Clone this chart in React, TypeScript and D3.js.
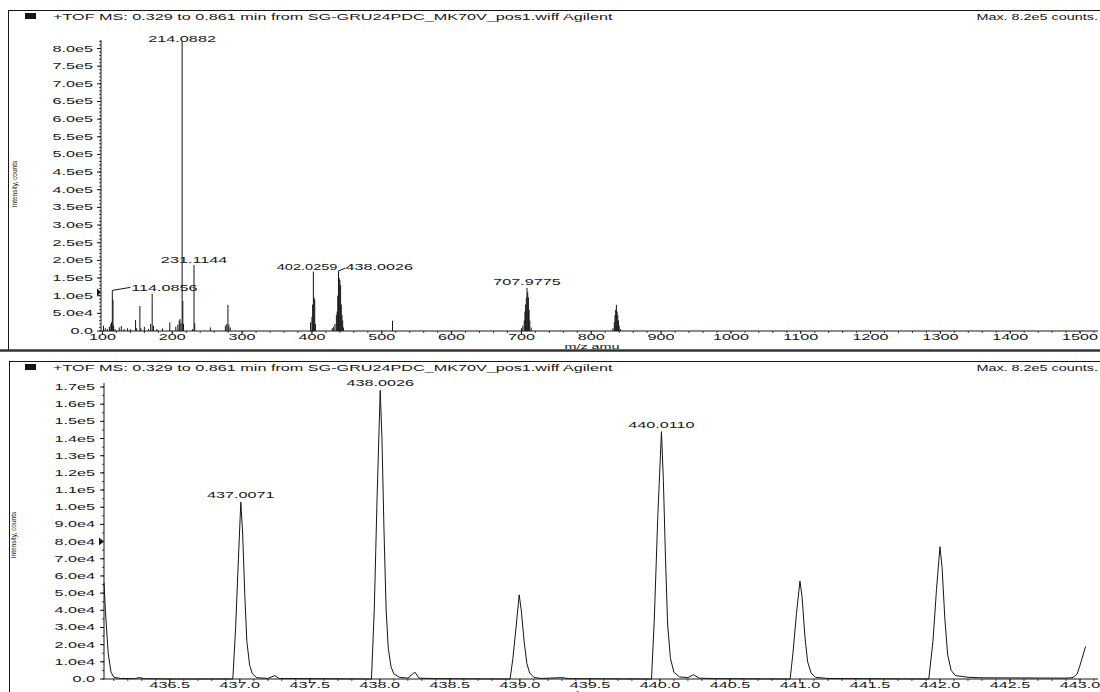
import React from "react";
import * as d3 from "d3";

// ---------- DATA ----------
const headerText = "+TOF MS: 0.329 to 0.861 min from SG-GRU24PDC_MK70V_pos1.wiff Agilent";
const maxText = "Max. 8.2e5 counts.";
const yAxisTitle = "Intensity, counts";
const xAxisTitle = "m/z amu";

// Top panel: centroid sticks (m/z, intensity)
const topMz = [101.5, 104, 107, 110, 112, 113, 114.0856, 115.09, 116, 118, 124, 127, 131, 136, 140,
  147.4, 149, 153.6, 155, 160, 166, 169, 171.2, 173, 178, 186, 196.4, 205, 208, 210, 211, 212.5,
  214.0882, 215.09, 216.09, 229, 231.1144, 232.1, 254.5, 276, 278, 279.7, 281, 283,
  398, 400, 401, 402.0259, 403, 404, 405, 429, 431, 433, 435, 436, 437.0071, 438.0026, 439, 440.011,
  441, 442, 443, 444, 445, 515.4, 700, 702, 704, 705, 706, 707, 707.9775, 709, 710, 711, 712, 714,
  831, 833, 834, 835, 836, 837, 838, 839, 840, 842];
const topInt = [15000, 8000, 6000, 12000, 20000, 25000, 115000, 88000, 15000, 5000, 10000, 14000, 6000, 8000, 5000,
  31000, 8000, 71000, 8000, 12000, 6000, 20000, 105000, 15000, 6000, 7000, 24000, 12000, 18000, 30000, 34000, 22000,
  820000, 85000, 20000, 5000, 187000, 22000, 10000, 15000, 20000, 74000, 18000, 10000,
  25000, 40000, 75000, 168000, 95000, 90000, 20000, 8000, 12000, 20000, 45000, 55000, 100000, 170000, 150000, 145000,
  130000, 75000, 45000, 30000, 10000, 29000, 8000, 15000, 30000, 55000, 75000, 95000, 122000, 110000, 95000, 60000, 30000, 10000,
  8000, 25000, 45000, 60000, 74000, 55000, 45000, 30000, 15000, 5000];

const topYTicks = [0, 50000, 100000, 150000, 200000, 250000, 300000, 350000, 400000, 450000, 500000, 550000, 600000, 650000, 700000, 750000, 800000];
const topYLabels = ["0.0", "5.0e4", "1.0e5", "1.5e5", "2.0e5", "2.5e5", "3.0e5", "3.5e5", "4.0e5", "4.5e5", "5.0e5", "5.5e5", "6.0e5", "6.5e5", "7.0e5", "7.5e5", "8.0e5"];
const topXTicks = [100, 200, 300, 400, 500, 600, 700, 800, 900, 1000, 1100, 1200, 1300, 1400, 1500];

// Top annotations
const topLabelText = ["214.0882", "231.1144", "114.0856", "402.0259", "438.0026", "707.9775"];
const topLabelMz = [214.0882, 231.1144, 114.0856, 402.0259, 438.0026, 707.9775];
const topLabelInt = [820000, 187000, 115000, 168000, 170000, 122000];

// Bottom panel: profile (m/z, intensity)
const botMz = [436.03, 436.04, 436.06, 436.08, 436.10, 436.15, 436.25, 436.28, 436.32, 436.5, 436.9,
  436.95, 436.97, 436.99, 437.007, 437.02, 437.035, 437.05, 437.07, 437.09, 437.12, 437.2, 437.25, 437.28, 437.9,
  437.94, 437.96, 437.98, 438.0026, 438.015, 438.03, 438.045, 438.06, 438.08, 438.1, 438.14, 438.2, 438.25, 438.28, 438.4, 438.9,
  438.93, 438.95, 438.975, 438.995, 439.01, 439.03, 439.05, 439.07, 439.1, 439.15, 439.3, 439.35, 439.9,
  439.94, 439.96, 439.985, 440.011, 440.025, 440.04, 440.055, 440.075, 440.1, 440.14, 440.2, 440.24, 440.28, 440.4, 440.9,
  440.93, 440.95, 440.975, 441.0, 441.015, 441.035, 441.055, 441.08, 441.11, 441.2, 441.9,
  441.92, 441.95, 441.975, 442.0, 442.015, 442.035, 442.055, 442.08, 442.11, 442.2, 442.3, 442.9,
  442.95, 442.98, 443.0, 443.04];
const botInt = [56000, 40000, 15000, 4000, 1000, 300, 200, 800, 200, 0, 0,
  0, 30000, 70000, 103000, 85000, 50000, 22000, 8000, 3000, 800, 300, 2000, 300, 0,
  0, 40000, 105000, 168000, 140000, 85000, 40000, 18000, 7000, 3000, 1000, 500, 4000, 500, 200, 0,
  0, 12000, 32000, 49000, 40000, 22000, 9000, 3500, 1000, 300, 800, 200, 0,
  0, 35000, 95000, 144000, 115000, 70000, 32000, 12000, 4000, 1200, 800, 2500, 500, 200, 0,
  0, 15000, 38000, 57000, 48000, 25000, 10000, 3500, 1000, 300, 0,
  0, 22000, 52000, 77000, 65000, 35000, 14000, 5000, 2000, 1000, 700, 500,
  800, 3000, 8000, 19000];

const botYTicks = [0, 10000, 20000, 30000, 40000, 50000, 60000, 70000, 80000, 90000, 100000, 110000, 120000, 130000, 140000, 150000, 160000, 170000];
const botYLabels = ["0.0", "1.0e4", "2.0e4", "3.0e4", "4.0e4", "5.0e4", "6.0e4", "7.0e4", "8.0e4", "9.0e4", "1.0e5", "1.1e5", "1.2e5", "1.3e5", "1.4e5", "1.5e5", "1.6e5", "1.7e5"];
const botXTicks = [436.5, 437.0, 437.5, 438.0, 438.5, 439.0, 439.5, 440.0, 440.5, 441.0, 441.5, 442.0, 442.5, 443.0];

const botLabelText = ["437.0071", "438.0026", "440.0110"];
const botLabelMz = [437.0071, 438.0026, 440.011];
const botLabelInt = [103000, 168000, 144000];

// ---------- STYLE ----------
const FONT = "'Liberation Sans', Arial, sans-serif";
const INK = "#161616";
const SX = 1.8;

function SText({ x, y, children, anchor = "start", size = 9, sx = SX }: any) {
  return (
    <text transform={`translate(${x},${y}) scale(${sx},1)`} textAnchor={anchor} fontSize={size}
      fontFamily={FONT} fill={INK}>{children}</text>
  );
}

export default function App() {
  // Top scales
  const tx = d3.scaleLinear().domain([97.9, 1525.7]).range([101, 1098]);
  const ty = d3.scaleLinear().domain([0, 800000]).range([331, 48.5]);
  // Bottom scales
  const bx = d3.scaleLinear().domain([436.03, 443.0]).range([104, 1080]);
  const by = d3.scaleLinear().domain([0, 170000]).range([679, 387]);

  const topMinorY = d3.range(0, 820001, 10000);
  const topMinorX = d3.range(100, 1521, 20);
  const botMinorY = d3.range(0, 172001, 5000);
  const botMinorX = d3.range(436.1, 443.11, 0.1);

  const botPts: [number, number][] = botMz.map((m, i) => [m, botInt[i]]);
  const profile = d3.line<[number, number]>().x(d => bx(d[0])).y(d => by(d[1]))(botPts) || "";

  const x402 = tx(topLabelMz[3]);
  const x438 = tx(topLabelMz[4]);
  const y438 = ty(topLabelInt[4]);

  return (
    <svg width={1100} height={692} style={{ position: "fixed", left: 0, top: 0, background: "#fff" }}>
      <rect x={0} y={0} width={1100} height={692} fill="#fff" />
      {/* ---------- TOP PANEL FRAME ---------- */}
      <line x1={8} y1={10.5} x2={1100} y2={10.5} stroke={INK} strokeWidth={1} />
      <line x1={8.5} y1={10} x2={8.5} y2={350} stroke={INK} strokeWidth={1} />
      <line x1={0} y1={350.5} x2={1100} y2={350.5} stroke="#333" strokeWidth={2.5} />
      <rect x={25} y={13} width={11} height={6} fill={INK} />
      <SText x={53} y={19.5}>{headerText}</SText>
      <SText x={1098} y={19.5} anchor="end" sx={1.6}>{maxText}</SText>

      {/* top y axis */}
      <line x1={101} y1={40} x2={101} y2={331} stroke={INK} />
      {topMinorY.map(v => <line key={"tmy" + v} x1={99} x2={101} y1={ty(v)} y2={ty(v)} stroke={INK} strokeWidth={0.8} />)}
      {topYTicks.map((v, i) => (
        <g key={"tyt" + v}>
          <line x1={97} x2={101} y1={ty(v)} y2={ty(v)} stroke={INK} />
          <SText x={93} y={ty(v) + 3} anchor="end">{topYLabels[i]}</SText>
        </g>
      ))}
      <path d={`M97,${ty(110000) - 4} L101,${ty(110000)} L97,${ty(110000) + 4} Z`} fill={INK} />
      <text transform={`translate(17,184) rotate(-90)`} textAnchor="middle" fontSize={6.5} fontFamily={FONT} fill={INK}>{yAxisTitle}</text>

      {/* top x axis */}
      <line x1={101} y1={331} x2={1098} y2={331} stroke={INK} />
      {topMinorX.map(v => <line key={"tmx" + v} x1={tx(v)} x2={tx(v)} y1={331} y2={333} stroke={INK} strokeWidth={0.8} />)}
      {topXTicks.map(v => (
        <g key={"txt" + v}>
          <line x1={tx(v)} x2={tx(v)} y1={331} y2={334} stroke={INK} />
          <SText x={tx(v)} y={340} anchor="middle">{String(v)}</SText>
        </g>
      ))}
      <SText x={592} y={348.5} anchor="middle" size={8}>{xAxisTitle}</SText>

      {/* sticks */}
      {topMz.map((m, i) => (
        <line key={"st" + i} x1={tx(m)} x2={tx(m)} y1={ty(0)} y2={ty(topInt[i])} stroke={INK} strokeWidth={1} />
      ))}

      {/* top labels */}
      <SText x={tx(topLabelMz[0])} y={ty(topLabelInt[0]) + 1} anchor="middle">{topLabelText[0]}</SText>
      <SText x={tx(topLabelMz[1])} y={ty(topLabelInt[1]) - 2} anchor="middle">{topLabelText[1]}</SText>
      <line x1={tx(topLabelMz[2])} y1={ty(topLabelInt[2])} x2={tx(topLabelMz[2]) + 18} y2={ty(topLabelInt[2]) - 3} stroke={INK} />
      <SText x={tx(topLabelMz[2]) + 19} y={ty(topLabelInt[2]) + 1} anchor="start">{topLabelText[2]}</SText>
      <SText x={x438 - 1} y={ty(topLabelInt[3]) - 2} anchor="end" sx={1.62}>{topLabelText[3]}</SText>
      <line x1={x438} y1={y438} x2={x438 + 7} y2={y438 - 3} stroke={INK} />
      <SText x={x438 + 7} y={y438 - 1} anchor="start">{topLabelText[4]}</SText>
      <SText x={tx(topLabelMz[5])} y={ty(topLabelInt[5]) - 3} anchor="middle">{topLabelText[5]}</SText>

      {/* ---------- BOTTOM PANEL FRAME ---------- */}
      <line x1={9} y1={361.5} x2={1100} y2={361.5} stroke={INK} strokeWidth={1} />
      <line x1={9.5} y1={361} x2={9.5} y2={692} stroke={INK} strokeWidth={1} />
      <rect x={25} y={364} width={11} height={6} fill={INK} />
      <SText x={53} y={370.5}>{headerText}</SText>
      <SText x={1098} y={370.5} anchor="end" sx={1.6}>{maxText}</SText>

      {/* bottom y axis */}
      <line x1={104} y1={383} x2={104} y2={679} stroke={INK} />
      {botMinorY.map(v => <line key={"bmy" + v} x1={102} x2={104} y1={by(v)} y2={by(v)} stroke={INK} strokeWidth={0.8} />)}
      {botYTicks.map((v, i) => (
        <g key={"byt" + v}>
          <line x1={100} x2={104} y1={by(v)} y2={by(v)} stroke={INK} />
          <SText x={95} y={by(v) + 3} anchor="end">{botYLabels[i]}</SText>
        </g>
      ))}
      <path d={`M99,${by(80000) - 4} L104,${by(80000)} L99,${by(80000) + 4} Z`} fill={INK} />
      <text transform={`translate(16,535) rotate(-90)`} textAnchor="middle" fontSize={6.5} fontFamily={FONT} fill={INK}>{yAxisTitle}</text>

      {/* bottom x axis */}
      <line x1={104} y1={679} x2={1098} y2={679} stroke={INK} />
      {botMinorX.map((v, i) => <line key={"bmx" + i} x1={bx(v)} x2={bx(v)} y1={679} y2={681} stroke={INK} strokeWidth={0.8} />)}
      {botXTicks.map(v => (
        <g key={"bxt" + v}>
          <line x1={bx(v)} x2={bx(v)} y1={679} y2={683} stroke={INK} />
          <SText x={bx(v)} y={688} anchor="middle">{v.toFixed(1)}</SText>
        </g>
      ))}
      <SText x={590} y={696} anchor="middle" size={8}>{xAxisTitle}</SText>

      {/* profile */}
      <path d={profile} fill="none" stroke={INK} strokeWidth={1} />

      {/* bottom labels */}
      {botLabelText.map((t, i) => (
        <SText key={"bl" + i} x={bx(botLabelMz[i])} y={by(botLabelInt[i]) - 4} anchor="middle">{t}</SText>
      ))}
    </svg>
  );
}
